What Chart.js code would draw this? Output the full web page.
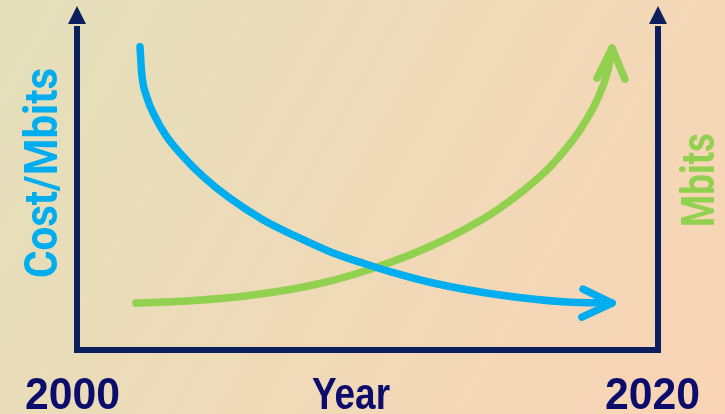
<!DOCTYPE html>
<html>
<head>
<meta charset="utf-8">
<script src="https://cdn.jsdelivr.net/npm/chart.js@4"></script>
<style>
  html, body { margin: 0; padding: 0; background: #EEDAB8; }
  canvas { display: block; }
</style>
</head>
<body>
<canvas id="c" width="725" height="414"></canvas>
<script>
// ---- Data ----
const xRange = [2000, 2020];            // year axis
const yRange = [0, 100];                // relative scale (no ticks shown)
const axisLabels = { start: "2000", middle: "Year", end: "2020" };
const leftTitle = "Cost/Mbits";
const rightTitle = "Mbits";

const costYears  = [2002.169, 2002.227, 2002.399, 2002.685, 2003.088, 2003.659, 2004.348, 2005.267, 2006.413, 2007.563, 2008.709, 2009.855, 2010.775, 2012.255, 2014.561, 2016.867, 2018.416];
const costValues = [93.04, 84.88, 77.70, 71.56, 65.43, 59.29, 53.16, 46.53, 39.88, 34.75, 30.15, 26.60, 24.02, 20.55, 16.87, 14.72, 14.42];
const costArrowYears  = [2017.42, 2018.42, 2017.38];
const costArrowValues = [18.7, 14.4, 10.1];

const mbitsYears  = [2002.031, 2003.787, 2006.059, 2008.365, 2010.327, 2012.255, 2014.458, 2016.179, 2016.799, 2017.315, 2017.900, 2018.279, 2018.416];
const mbitsValues = [14.42, 15.03, 16.87, 20.40, 25.46, 32.21, 42.94, 55.21, 61.35, 67.48, 76.69, 85.89, 92.64];
const mbitsArrowYears  = [2017.90, 2018.42, 2018.86];
const mbitsArrowValues = [83.4, 92.6, 83.1];

// ---- Styles ----
const BLUE = '#00AEEF';
const GREEN = '#92D050';
const AXIS = '#0B1F5E';
const TEXT = '#0C0C6C';

const toPts = (xs, ys) => xs.map((x, i) => ({ x, y: ys[i] }));

const bgPlugin = {
  id: 'bg',
  beforeDraw(chart) {
    const { ctx, width, height } = chart;
    const g = ctx.createLinearGradient(0, 0, width, height);
    g.addColorStop(0, '#E3DFBA');
    g.addColorStop(0.5, '#EFDAB8');
    g.addColorStop(1, '#F9D4B5');
    ctx.save();
    ctx.fillStyle = g;
    ctx.fillRect(0, 0, width, height);
    ctx.restore();
  }
};

function fitText(ctx, text, font, x, y, targetW, rotate) {
  ctx.save();
  ctx.font = font;
  const w = ctx.measureText(text).width;
  ctx.translate(x, y);
  if (rotate) ctx.rotate(-Math.PI / 2);
  ctx.scale(targetW / w, 1);
  ctx.textBaseline = 'alphabetic';
  ctx.textAlign = 'left';
  ctx.fillText(text, 0, 0);
  ctx.restore();
}

const axesPlugin = {
  id: 'axesArrows',
  afterDraw(chart) {
    const { ctx } = chart;
    const xs = chart.scales.x, ys = chart.scales.y;
    const L = xs.getPixelForValue(xRange[0]);
    const R = xs.getPixelForValue(xRange[1]);
    const B = ys.getPixelForValue(yRange[0]);
    const T = ys.getPixelForValue(yRange[1]);
    ctx.save();
    ctx.strokeStyle = AXIS;
    ctx.fillStyle = AXIS;
    ctx.lineWidth = 6;
    ctx.lineJoin = 'miter';
    ctx.beginPath();
    ctx.moveTo(L, T + 2);
    ctx.lineTo(L, B);
    ctx.lineTo(R, B);
    ctx.lineTo(R, T + 2);
    ctx.stroke();
    [L, R].forEach(px => {
      ctx.beginPath();
      ctx.moveTo(px, T - 18);
      ctx.lineTo(px + 9, T);
      ctx.lineTo(px - 9, T);
      ctx.closePath();
      ctx.fill();
    });
    // Axis texts
    ctx.fillStyle = TEXT;
    const f = 'bold 45px "Liberation Sans", Arial, sans-serif';
    fitText(ctx, axisLabels.start, f, 25, 409, 95, false);
    fitText(ctx, axisLabels.middle, f, 312, 409, 78, false);
    fitText(ctx, axisLabels.end, f, 605, 409, 95, false);
    const g = 'bold 47px Roboto, "Liberation Sans", sans-serif';
    ctx.fillStyle = BLUE;
    fitText(ctx, leftTitle, g, 57, 278, 210, true);
    ctx.fillStyle = GREEN;
    fitText(ctx, rightTitle, g, 714, 227, 94, true);
    ctx.restore();
  }
};

const lineDs = (data, color, smooth) => ({
  data, borderColor: color, borderWidth: 7.5, pointRadius: 0,
  borderCapStyle: 'round', borderJoinStyle: 'round',
  cubicInterpolationMode: smooth ? 'monotone' : 'default', tension: 0, fill: false
});

new Chart(document.getElementById('c'), {
  type: 'line',
  data: {
    datasets: [
      lineDs(toPts(costYears, costValues), BLUE, true),
      lineDs(toPts(costArrowYears, costArrowValues), BLUE, false),
      lineDs(toPts(mbitsYears, mbitsValues), GREEN, true),
      lineDs(toPts(mbitsArrowYears, mbitsArrowValues), GREEN, false)
    ]
  },
  options: {
    responsive: false,
    animation: false,
    devicePixelRatio: 1,
    layout: { padding: { left: 77, right: 67, top: 24, bottom: 64 } },
    plugins: { legend: { display: false }, tooltip: { enabled: false } },
    scales: {
      x: { type: 'linear', min: xRange[0], max: xRange[1], display: false },
      y: { type: 'linear', min: yRange[0], max: yRange[1], display: false }
    }
  },
  plugins: [bgPlugin, axesPlugin]
});
</script>
</body>
</html>
